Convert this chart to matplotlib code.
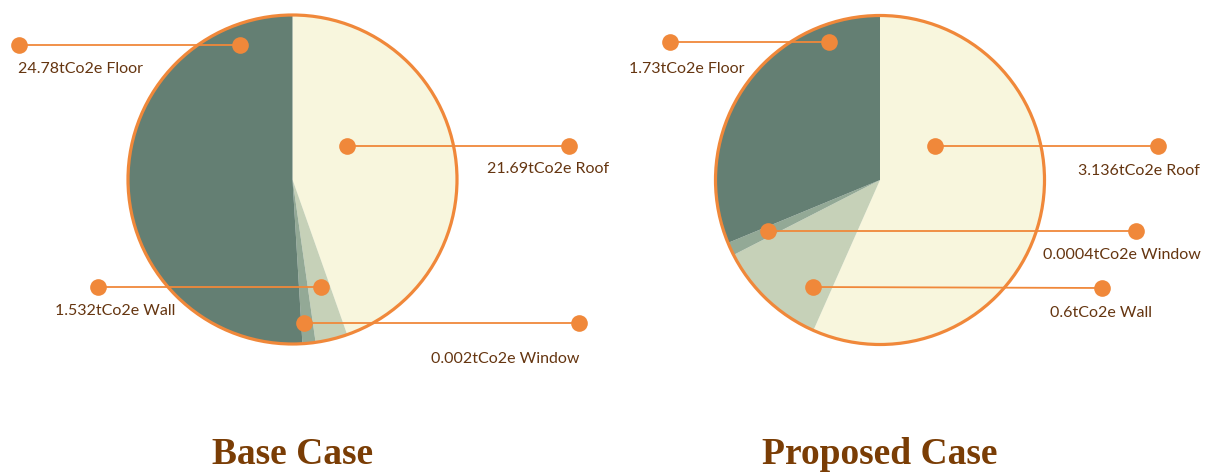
import numpy as np
import matplotlib.pyplot as plt
from matplotlib.patches import Circle

# embodied carbon per building element (tCo2e)
parts = ['Roof', 'Wall', 'Window', 'Floor']
base_vals = [21.69, 1.532, 0.002, 24.78]
prop_vals = [3.136, 0.6, 0.0004, 1.73]
base_text = ['21.69', '1.532', '0.002', '24.78']
prop_text = ['3.136', '0.6', '0.0004', '1.73']
titles = ['Base Case', 'Proposed Case']

colors = ['#f8f6dd', '#c6d1b8', '#93a996', '#647f73']
orange = '#f0883a'
brown = '#653510'
title_brown = '#7a3d05'

W, H = 1207, 476
R = 164.5
centers = [(292.5, 179.5), (880, 180)]

# leader lines in pixels: inner dot, outer dot, label centre
leaders = [
    {'Roof': ((347, 146), (569, 146), (548, 169)),
     'Wall': ((321, 287), (98, 287), (115, 311)),
     'Window': ((304, 323), (579, 323), (505, 359)),
     'Floor': ((240, 45), (19, 45), (80, 69))},
    {'Roof': ((935, 146), (1158, 146), (1139, 171)),
     'Wall': ((813, 287), (1102, 288), (1101, 313)),
     'Window': ((768, 231), (1136, 231), (1122, 255)),
     'Floor': ((829, 42), (670, 42), (687, 69))},
]


def shares(vals, floor=0.013):
    # tiny slices get a minimum visible share
    s = np.array(vals) / np.sum(vals)
    s = np.maximum(s, floor)
    return s / s.sum()


fig = plt.figure(figsize=(W / 100, H / 100), dpi=100)
ax = fig.add_axes([0, 0, 1, 1])

for k, (vals, txts) in enumerate([(base_vals, base_text), (prop_vals, prop_text)]):
    cx, cy = centers[k]
    ax.pie(shares(vals), colors=colors, startangle=90, counterclock=False,
           center=(cx, H - cy), radius=R, wedgeprops={'linewidth': 0}, frame=True)
    ax.add_patch(Circle((cx, H - cy), R, fill=False, ec=orange, lw=2.3, zorder=3))

    for name, t in zip(parts, txts):
        (x1, y1), (x2, y2), (tx, ty) = leaders[k][name]
        ax.plot([x1, x2], [H - y1, H - y2], color=orange, lw=1.3, zorder=4)
        ax.plot([x1, x2], [H - y1, H - y2], 'o', color=orange, ms=12, mec='none', zorder=5)
        ax.text(tx, H - ty, t + 'tCo2e ' + name, ha='center', va='center',
                fontsize=11.5, family='Lato', color=brown)

    ax.text(cx, H - 455, titles[k], ha='center', va='center', fontsize=27,
            family='Liberation Serif', weight='bold', color=title_brown)

ax.set_xlim(0, W)
ax.set_ylim(0, H)
ax.set_aspect('equal')
ax.axis('off')

plt.savefig('out.png', dpi=100)
